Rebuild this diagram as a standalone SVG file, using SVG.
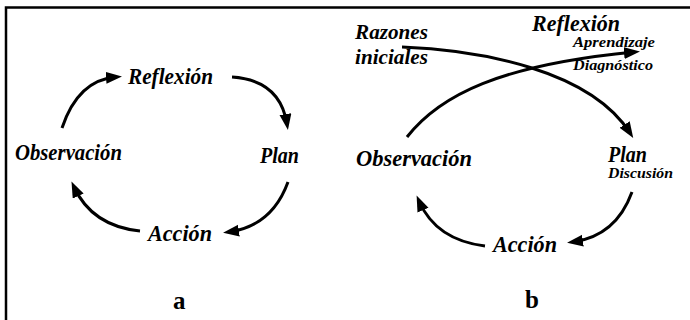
<svg xmlns="http://www.w3.org/2000/svg" width="690" height="320" viewBox="0 0 690 320">
  <defs>
    <marker id="head" markerUnits="userSpaceOnUse" markerWidth="17" markerHeight="13" refX="10" refY="6" orient="auto">
      <path d="M0,0 L16,6 L0,12 z" fill="#000"/>
    </marker>
    <style>
      .lbl { font-family: "Liberation Serif", "Times New Roman", serif; font-weight: bold; font-style: italic; font-size: 24px; fill: #000; }
      .two { font-size: 22px; }
      .sub { font-family: "Liberation Serif", "Times New Roman", serif; font-weight: bold; font-style: italic; font-size: 15px; fill: #000; }
      .tag { font-family: "Liberation Serif", "Times New Roman", serif; font-weight: bold; font-size: 25px; fill: #000; }
      .arc { fill: none; stroke: #000; stroke-width: 3; marker-end: url(#head); }
      .frame { fill: none; stroke: #000; stroke-width: 2.5; }
    </style>
  </defs>

  <rect width="690" height="320" fill="#fff"/>
  <!-- open frame: top and left edges -->
  <path class="frame" d="M6,320 L6,7.5 L690,7.5"/>

  <!-- cycle a -->
  <g id="a-reflexion"><text class="lbl" x="128" y="84" textLength="85" lengthAdjust="spacingAndGlyphs">Reflexión</text></g>
  <g id="a-plan"><text class="lbl" x="260" y="163" textLength="39" lengthAdjust="spacingAndGlyphs">Plan</text></g>
  <g id="a-accion"><text class="lbl" x="148" y="241" textLength="64" lengthAdjust="spacingAndGlyphs">Acción</text></g>
  <g id="a-observacion"><text class="lbl" x="15" y="160" textLength="107" lengthAdjust="spacingAndGlyphs">Observación</text></g>
  <g id="a-label"><text class="tag" x="173" y="309">a</text></g>

  <!-- cycle b -->
  <g id="b-razones">
    <text class="lbl two" x="355" y="39" textLength="73" lengthAdjust="spacingAndGlyphs">Razones</text>
    <text class="lbl two" x="355" y="64" textLength="73" lengthAdjust="spacingAndGlyphs">iniciales</text>
  </g>
  <g id="b-reflexion">
    <text class="lbl" x="532" y="31" textLength="88" lengthAdjust="spacingAndGlyphs">Reflexión</text>
    <text class="sub" x="573" y="47" textLength="82" lengthAdjust="spacingAndGlyphs">Aprendizaje</text>
    <text class="sub" x="573" y="70" textLength="80" lengthAdjust="spacingAndGlyphs">Diagnóstico</text>
  </g>
  <g id="b-plan">
    <text class="lbl" x="608" y="162" textLength="39" lengthAdjust="spacingAndGlyphs">Plan</text>
    <text class="sub" x="608" y="178" textLength="65" lengthAdjust="spacingAndGlyphs">Discusión</text>
  </g>
  <g id="b-accion"><text class="lbl" x="493" y="252" textLength="64" lengthAdjust="spacingAndGlyphs">Acción</text></g>
  <g id="b-observacion"><text class="lbl" x="356" y="166" textLength="116" lengthAdjust="spacingAndGlyphs">Observación</text></g>
  <g id="b-label"><text class="tag" x="525" y="308">b</text></g>

  <g id="connectors">
    <path class="arc" d="M62,128 Q78,80 116,77"/>
    <path class="arc" d="M232,77 Q280,80 287,124"/>
    <path class="arc" d="M288,182 Q272,226 229,232"/>
    <path class="arc" d="M140,231 Q92,226 74,187"/>

    <path class="arc" d="M402,47 C480,50 590,70 630,133"/>
    <path class="arc" d="M407,137 C440,95 500,65 634,52"/>
    <path class="arc" d="M632,192 Q616,236 573,242"/>
    <path class="arc" d="M485,246 Q436,240 419,201"/>
  </g>
</svg>
